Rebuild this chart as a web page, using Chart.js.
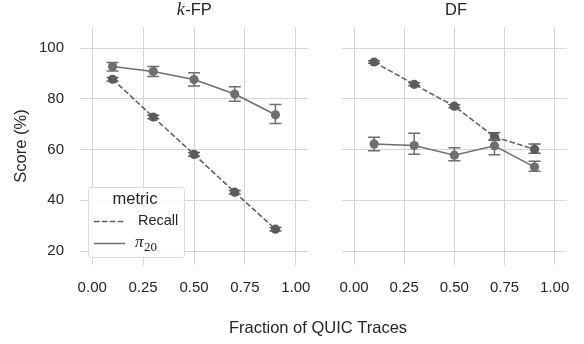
<!DOCTYPE html>
<html>
<head>
<meta charset="utf-8">
<script src="https://cdn.jsdelivr.net/npm/chart.js@4"></script>
<style>
  body { margin: 0; background: #fff; }
  #wrap { position: relative; width: 584px; height: 344px; }
  canvas { position: absolute; left: 0; top: 0; }
</style>
</head>
<body>
<div id="wrap">
  <canvas id="left" width="584" height="344"></canvas>
  <canvas id="right" width="584" height="344"></canvas>
</div>
<script>
// x positions (fraction of QUIC traces)
const fractions = [0.1, 0.3, 0.5, 0.7, 0.9];
const xTicks = [0, 0.25, 0.5, 0.75, 1];
const yTicks = [20, 40, 60, 80, 100];

// k-FP
const kfpRecall = [87.7, 72.8, 58.1, 43.2, 28.6];
const kfpRecallLo = [87.0, 72.1, 57.4, 42.5, 27.9];
const kfpRecallHi = [88.4, 73.5, 58.8, 43.9, 29.3];
const kfpPi = [92.7, 90.8, 87.6, 81.9, 73.7];
const kfpPiLo = [91.0, 88.8, 85.0, 79.0, 70.3];
const kfpPiHi = [94.3, 92.7, 90.3, 84.8, 77.8];

// DF
const dfRecall = [94.5, 85.7, 77.1, 65.0, 60.1];
const dfRecallLo = [94.0, 85.1, 76.5, 63.7, 58.5];
const dfRecallHi = [95.0, 86.3, 77.7, 66.6, 62.2];
const dfPi = [62.2, 61.6, 57.8, 61.5, 53.1];
const dfPiLo = [59.5, 58.1, 55.6, 58.0, 51.4];
const dfPiHi = [64.8, 66.4, 60.7, 64.0, 55.4];

const recallColor = '#5c5c5c';
const piColor = '#6f6f6f';
const gridColor = '#d6d6d6';
const textColor = '#262626';
const font = 'Liberation Sans';

function pts(ys) { return fractions.map((x, i) => ({x: x, y: ys[i]})); }

function makeSets(recall, rLo, rHi, pi, pLo, pHi) {
    return [{
        label: 'Recall',
        data: pts(recall), lo: rLo, hi: rHi,
        borderColor: recallColor, backgroundColor: recallColor,
        borderWidth: 1.5, borderDash: [5.5, 2.4],
        pointRadius: 4.6, pointBorderWidth: 0, pointHoverRadius: 4.6
    }, {
        label: 'π20',
        data: pts(pi), lo: pLo, hi: pHi,
        borderColor: piColor, backgroundColor: piColor,
        borderWidth: 1.5,
        pointRadius: 4.6, pointBorderWidth: 0, pointHoverRadius: 4.6
    }];
}

// error bars from the lo/hi arrays
const errorBars = {
    id: 'errorBars',
    afterDatasetsDraw(chart) {
        const c = chart.ctx, xs = chart.scales.x, ys = chart.scales.y;
        chart.data.datasets.forEach(ds => {
            c.save();
            c.strokeStyle = ds.borderColor;
            c.lineWidth = 1.5;
            ds.data.forEach((p, i) => {
                const px = xs.getPixelForValue(p.x);
                const y1 = ys.getPixelForValue(ds.lo[i]);
                const y2 = ys.getPixelForValue(ds.hi[i]);
                c.beginPath();
                c.moveTo(px, y1); c.lineTo(px, y2);
                c.moveTo(px - 6, y1); c.lineTo(px + 6, y1);
                c.moveTo(px - 6, y2); c.lineTo(px + 6, y2);
                c.stroke();
            });
            c.restore();
        });
    }
};

// figure texts + legend, drawn on the left canvas
const figureText = {
    id: 'figureText',
    afterDraw(chart) {
        const c = chart.ctx;
        c.save();
        c.fillStyle = textColor;
        c.textBaseline = 'middle';
        // panel titles
        const kFont = 'italic 18px "Liberation Serif"';
        const tFont = '16.5px "' + font + '"';
        c.font = kFont;
        const kw = c.measureText('k').width;
        c.font = tFont;
        const fw = c.measureText('-FP').width;
        const sx = 194 - (kw + fw) / 2;
        c.textAlign = 'left';
        c.font = kFont;
        c.fillText('k', sx, 10.5);
        c.font = tFont;
        c.fillText('-FP', sx + kw + 0.5, 10.5);
        c.textAlign = 'center';
        c.fillText('DF', 456, 10.5);
        // x axis title
        c.font = '16.5px "' + font + '"';
        c.fillText('Fraction of QUIC Traces', 318, 328);

        // legend
        const lx = 88, ly = 187, lw = 96, lh = 70;
        c.fillStyle = 'rgba(255,255,255,0.85)';
        c.strokeStyle = '#dcdcdc';
        c.lineWidth = 1;
        c.beginPath();
        c.roundRect(lx + 0.5, ly + 0.5, lw, lh, 3);
        c.fill(); c.stroke();
        c.fillStyle = textColor;
        c.font = '16.5px "' + font + '"';
        c.fillText('metric', lx + lw / 2 - 1, ly + 12);
        c.lineWidth = 1.5;
        c.strokeStyle = recallColor;
        c.setLineDash([5.5, 2.4]);
        c.beginPath(); c.moveTo(lx + 6, ly + 34.5); c.lineTo(lx + 36, ly + 34.5); c.stroke();
        c.setLineDash([]);
        c.strokeStyle = piColor;
        c.beginPath(); c.moveTo(lx + 6, ly + 56.5); c.lineTo(lx + 37, ly + 56.5); c.stroke();
        c.textAlign = 'left';
        c.font = '14.5px "' + font + '"';
        c.fillText('Recall', lx + 50, ly + 34);
        c.font = 'italic 17px "Liberation Serif"';
        c.fillText('π', lx + 47, ly + 56);
        c.font = '13px "Liberation Serif"';
        c.fillText('20', lx + 56, ly + 61);
        c.restore();
    }
};

function makeOptions(isLeft) {
    return {
        responsive: false,
        animation: false,
        layout: {padding: isLeft ? {left: 0, right: 276, top: 27, bottom: 0}
                                 : {left: 342, right: 14, top: 27, bottom: 0}},
        plugins: {legend: {display: false}, tooltip: {enabled: false}},
        scales: {
            x: {
                type: 'linear', min: -0.06, max: 1.06,
                afterBuildTicks: s => { s.ticks = xTicks.map(v => ({value: v})); },
                afterFit: s => { s.height = 79; },
                grid: {color: gridColor, lineWidth: 1, drawTicks: false},
                border: {display: false},
                ticks: {padding: 14, color: textColor, font: {family: font, size: 15},
                        callback: v => v.toFixed(2)}
            },
            y: {
                min: 14.5, max: 108.3,
                afterBuildTicks: s => { s.ticks = yTicks.map(v => ({value: v})); },
                afterFit: s => { s.width = isLeft ? 80 : 0; },
                grid: {color: gridColor, lineWidth: 1, drawTicks: false},
                border: {display: false},
                title: {display: isLeft, text: 'Score (%)', color: textColor,
                        font: {family: font, size: 16.5}, padding: {top: 12}},
                ticks: {display: isLeft, padding: 16, color: textColor,
                        font: {family: font, size: 15}}
            }
        }
    };
}

new Chart(document.getElementById('left'), {
    type: 'line',
    data: {datasets: makeSets(kfpRecall, kfpRecallLo, kfpRecallHi, kfpPi, kfpPiLo, kfpPiHi)},
    options: makeOptions(true),
    plugins: [errorBars, figureText]
});

new Chart(document.getElementById('right'), {
    type: 'line',
    data: {datasets: makeSets(dfRecall, dfRecallLo, dfRecallHi, dfPi, dfPiLo, dfPiHi)},
    options: makeOptions(false),
    plugins: [errorBars]
});
</script>
</body>
</html>
